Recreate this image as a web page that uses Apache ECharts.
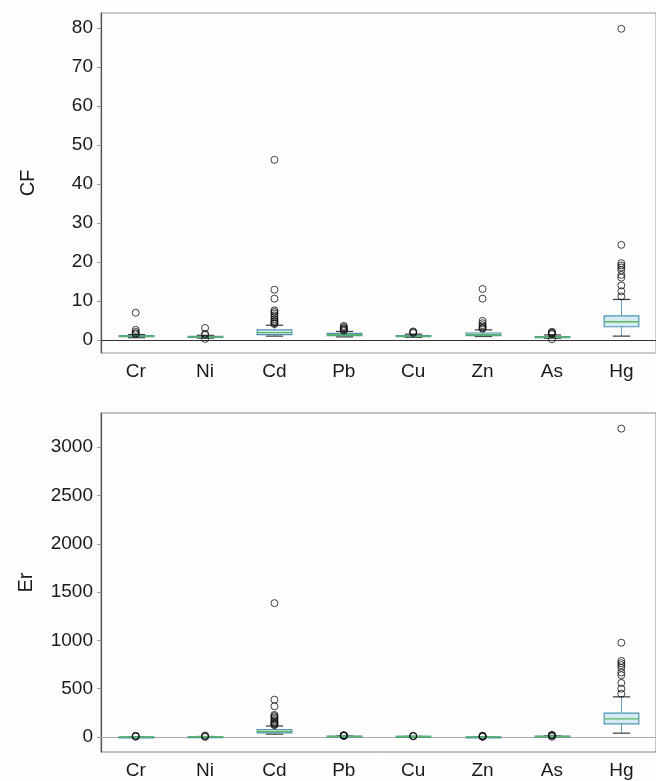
<!DOCTYPE html>
<html>
<head>
<meta charset="utf-8">
<script src="https://cdn.jsdelivr.net/npm/echarts@6/dist/echarts.min.js"></script>
<style>
  html, body { margin: 0; padding: 0; background: #fdfdfd; }
  #main { width: 656px; height: 781px; }
</style>
</head>
<body>
<div id="main"></div>
<script>
//*************** data ***************
var metals = ['Cr', 'Ni', 'Cd', 'Pb', 'Cu', 'Zn', 'As', 'Hg'];

// [low whisker, q1, median, q3, high whisker]
var cfBox = [
    [0.6, 0.85, 1.0, 1.15, 1.4],
    [0.5, 0.7, 0.8, 0.95, 1.2],
    [1.0, 1.4, 1.9, 2.6, 3.8],
    [0.8, 1.1, 1.35, 1.7, 2.2],
    [0.7, 0.9, 1.0, 1.15, 1.5],
    [0.9, 1.1, 1.35, 1.8, 2.6],
    [0.45, 0.6, 0.72, 0.88, 1.3],
    [1.0, 3.4, 4.7, 6.2, 10.4]
];
var cfOutliers = [
    [7.0, 2.6, 2.1, 1.7, 1.5],
    [3.1, 1.6, 1.3, 0.3],
    [46.2, 12.9, 10.6, 7.6, 7.2, 6.8, 6.3, 5.8, 5.3, 4.9, 4.6, 4.3, 4.1],
    [3.6, 3.3, 3.0, 2.8, 2.6, 2.4],
    [2.2, 2.0, 1.8],
    [13.1, 10.6, 4.9, 4.3, 3.8, 3.4, 3.1, 2.9],
    [2.1, 1.9, 1.7, 1.5, 0.2],
    [79.8, 24.4, 19.7, 19.1, 18.6, 17.9, 16.7, 16.0, 14.0, 12.5, 11.2]
];

var erBox = [
    [1.2, 1.7, 2.0, 2.3, 2.8],
    [2.5, 3.5, 4.0, 4.8, 6.0],
    [30, 42, 57, 78, 114],
    [4, 5.5, 6.8, 8.5, 11],
    [3.5, 4.5, 5, 5.8, 7.5],
    [0.9, 1.1, 1.35, 1.8, 2.6],
    [4.5, 6, 7.2, 8.8, 13],
    [40, 136, 188, 248, 416]
];
var erOutliers = [
    [14, 5.2, 4.2],
    [15.5, 8, 1.5],
    [1386, 387, 318, 228, 216, 204, 189, 174, 159, 147, 138, 129, 123],
    [18, 16.5, 15, 14, 13, 12],
    [11, 10, 9],
    [13.1, 10.6, 4.9, 4.3, 3.8],
    [21, 19, 17, 15, 2],
    [3192, 976, 788, 764, 744, 716, 668, 640, 560, 500, 448]
];

var cfTicks = [0, 10, 20, 30, 40, 50, 60, 70, 80];
var erTicks = [0, 500, 1000, 1500, 2000, 2500, 3000];

//*************** helpers ***************
function box_rows(box) {
    return box.map(function (b, i) { return [i].concat(b); });
}
function outlier_rows(outs) {
    var rows = [];
    outs.forEach(function (arr, i) {
        arr.forEach(function (v) { rows.push([metals[i], v]); });
    });
    return rows;
}

function render_box(params, api) {
    var x = api.value(0);
    var low = api.coord([x, api.value(1)]);
    var q1 = api.coord([x, api.value(2)]);
    var med = api.coord([x, api.value(3)]);
    var q3 = api.coord([x, api.value(4)]);
    var high = api.coord([x, api.value(5)]);
    var bw = api.size([1, 0])[0] * 0.5;
    var cx = Math.round(low[0]) + 0.5;
    var stemStyle = { stroke: '#6b9dc2', lineWidth: 1 };
    var capStyle = { stroke: '#3a3a3a', lineWidth: 1.2 };
    return {
        type: 'group',
        children: [
            { type: 'line', shape: { x1: cx, y1: high[1], x2: cx, y2: q3[1] }, style: stemStyle },
            { type: 'line', shape: { x1: cx, y1: q1[1], x2: cx, y2: low[1] }, style: stemStyle },
            { type: 'line', shape: { x1: cx - bw / 4, y1: high[1], x2: cx + bw / 4, y2: high[1] }, style: capStyle },
            { type: 'line', shape: { x1: cx - bw / 4, y1: low[1], x2: cx + bw / 4, y2: low[1] }, style: capStyle },
            {
                type: 'rect',
                shape: { x: cx - bw / 2, y: q3[1], width: bw, height: Math.max(q1[1] - q3[1], 1) },
                style: { fill: '#d6eaf2', stroke: '#4f93b3', lineWidth: 1.2 }
            },
            { type: 'line', shape: { x1: cx - bw / 2, y1: med[1], x2: cx + bw / 2, y2: med[1] }, style: { stroke: '#5cb85c', lineWidth: 1.4 } }
        ]
    };
}

var fontFam = 'Liberation Sans, Arial, sans-serif';

function x_axis(gridIndex, lineColor) {
    return {
        type: 'category',
        gridIndex: gridIndex,
        data: metals,
        axisLine: { lineStyle: { color: lineColor, width: 1.2 } },
        axisTick: { alignWithLabel: true, length: 5, lineStyle: { color: '#777' } },
        axisLabel: { color: '#1a1a1a', fontSize: 19, fontFamily: fontFam, margin: 9 },
        splitLine: { show: false }
    };
}

function y_axis(gridIndex, name, min, max, ticks, gap) {
    return {
        type: 'value',
        gridIndex: gridIndex,
        name: name,
        nameLocation: 'middle',
        nameGap: gap,
        nameTextStyle: { color: '#1a1a1a', fontSize: 20, fontFamily: fontFam },
        min: min,
        max: max,
        axisLine: { show: true, lineStyle: { color: '#555', width: 1.2 } },
        axisTick: { show: true, length: 4, customValues: ticks, lineStyle: { color: '#999' } },
        axisLabel: {
            color: '#1a1a1a', fontSize: 19, fontFamily: fontFam, margin: 8, customValues: ticks,
            formatter: function (v) { return String(v); }
        },
        splitLine: { show: false }
    };
}

function outlier_series(idx, outs) {
    return {
        type: 'scatter',
        xAxisIndex: idx,
        yAxisIndex: idx,
        symbol: 'circle',
        symbolSize: 7,
        itemStyle: { color: 'rgba(255,255,255,0)', borderColor: '#111', borderWidth: 1 },
        z: 5,
        data: outlier_rows(outs)
    };
}

function box_series(idx, box) {
    return {
        type: 'custom',
        xAxisIndex: idx,
        yAxisIndex: idx,
        renderItem: render_box,
        encode: { x: 0, y: [1, 2, 3, 4, 5] },
        z: 3,
        data: box_rows(box)
    };
}

//*************** chart ***************
var chart = echarts.init(document.getElementById('main'), null, { renderer: 'canvas' });

var option = {
    backgroundColor: '#fdfdfd',
    animation: false,
    grid: [
        { left: 101, top: 13, width: 566, height: 340, show: true, borderColor: '#999', borderWidth: 1, backgroundColor: 'transparent' },
        { left: 101, top: 413, width: 566, height: 339, show: true, borderColor: '#888', borderWidth: 1, backgroundColor: 'transparent' }
    ],
    xAxis: [x_axis(0, '#333'), x_axis(1, '#aaa')],
    yAxis: [
        y_axis(0, 'CF', -3.33, 83.85, cfTicks, 63),
        y_axis(1, 'Er', -155, 3354, erTicks, 65)
    ],
    series: [
        box_series(0, cfBox),
        outlier_series(0, cfOutliers),
        box_series(1, erBox),
        outlier_series(1, erOutliers)
    ]
};

chart.setOption(option);
</script>
</body>
</html>
